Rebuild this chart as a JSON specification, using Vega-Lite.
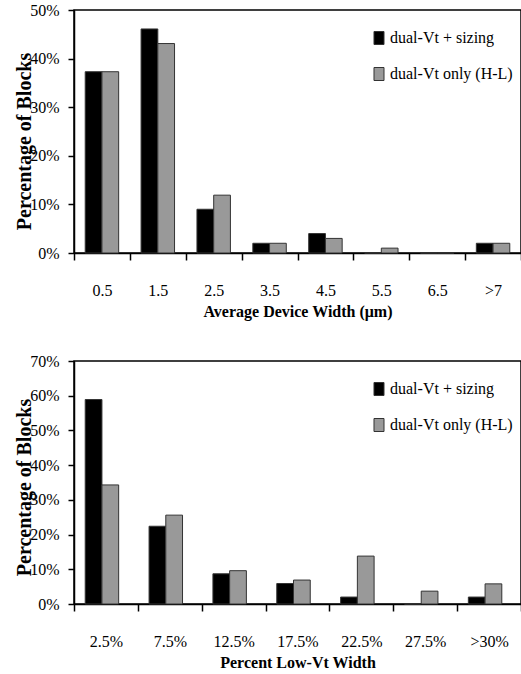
{
  "$schema": "https://vega.github.io/schema/vega-lite/v6.json",
  "padding": {"left": 13, "top": 1, "right": 0, "bottom": 2},
  "datasets": {
    "devwidth": [
      {"bin": "0.5", "series": "dual-Vt + sizing", "pct": 37.3},
      {"bin": "0.5", "series": "dual-Vt only (H-L)", "pct": 37.3},
      {"bin": "1.5", "series": "dual-Vt + sizing", "pct": 46.1},
      {"bin": "1.5", "series": "dual-Vt only (H-L)", "pct": 43.1},
      {"bin": "2.5", "series": "dual-Vt + sizing", "pct": 9.0},
      {"bin": "2.5", "series": "dual-Vt only (H-L)", "pct": 11.9},
      {"bin": "3.5", "series": "dual-Vt + sizing", "pct": 2.0},
      {"bin": "3.5", "series": "dual-Vt only (H-L)", "pct": 2.0},
      {"bin": "4.5", "series": "dual-Vt + sizing", "pct": 4.0},
      {"bin": "4.5", "series": "dual-Vt only (H-L)", "pct": 3.0},
      {"bin": "5.5", "series": "dual-Vt + sizing", "pct": 0},
      {"bin": "5.5", "series": "dual-Vt only (H-L)", "pct": 1.0},
      {"bin": "6.5", "series": "dual-Vt + sizing", "pct": 0},
      {"bin": "6.5", "series": "dual-Vt only (H-L)", "pct": 0},
      {"bin": ">7", "series": "dual-Vt + sizing", "pct": 2.0},
      {"bin": ">7", "series": "dual-Vt only (H-L)", "pct": 2.0}
    ],
    "lowvt": [
      {"bin": "2.5%", "series": "dual-Vt + sizing", "pct": 58.9},
      {"bin": "2.5%", "series": "dual-Vt only (H-L)", "pct": 34.3},
      {"bin": "7.5%", "series": "dual-Vt + sizing", "pct": 22.4},
      {"bin": "7.5%", "series": "dual-Vt only (H-L)", "pct": 25.6},
      {"bin": "12.5%", "series": "dual-Vt + sizing", "pct": 8.7},
      {"bin": "12.5%", "series": "dual-Vt only (H-L)", "pct": 9.6},
      {"bin": "17.5%", "series": "dual-Vt + sizing", "pct": 5.9},
      {"bin": "17.5%", "series": "dual-Vt only (H-L)", "pct": 6.9},
      {"bin": "22.5%", "series": "dual-Vt + sizing", "pct": 2.0},
      {"bin": "22.5%", "series": "dual-Vt only (H-L)", "pct": 13.8},
      {"bin": "27.5%", "series": "dual-Vt + sizing", "pct": 0},
      {"bin": "27.5%", "series": "dual-Vt only (H-L)", "pct": 3.7},
      {"bin": ">30%", "series": "dual-Vt + sizing", "pct": 2.0},
      {"bin": ">30%", "series": "dual-Vt only (H-L)", "pct": 5.8}
    ]
  },
  "config": {
    "font": "Liberation Serif",
    "view": {"stroke": "black", "strokeWidth": 1.5},
    "axis": {
      "domainColor": "black", "domainWidth": 1.5,
      "tickColor": "black", "tickWidth": 1.5,
      "grid": false,
      "labelFont": "Liberation Serif", "labelColor": "black",
      "titleFont": "Liberation Serif", "titleColor": "black"
    },
    "legend": {
      "labelFont": "Liberation Serif", "labelFontSize": 16, "labelColor": "black",
      "symbolType": "M-0.77,-1H0.77V1H-0.77Z", "symbolSize": 169,
      "symbolStrokeColor": "#333", "symbolStrokeWidth": 1,
      "rowPadding": 18, "labelOffset": 3, "padding": 0
    },
    "concat": {"spacing": 32}
  },
  "resolve": {"legend": {"color": "independent"}},
  "vconcat": [
    {
      "width": 447, "height": 243,
      "data": {"name": "devwidth"},
      "mark": {"type": "bar", "stroke": "#333", "strokeWidth": 1},
      "encoding": {
        "x": {
          "field": "bin", "type": "nominal", "sort": null,
          "scale": {"paddingInner": 0, "paddingOuter": 0},
          "axis": {
            "title": "Average Device Width (μm)", "labelAngle": 0,
            "tickBand": "extent", "tickSize": 7, "labelPadding": 22,
            "labelFontSize": 16, "titleFontSize": 16, "titleFontWeight": "bold", "titlePadding": 5
          }
        },
        "xOffset": {
          "field": "series", "type": "nominal", "sort": null,
          "scale": {"paddingInner": 0, "paddingOuter": 0.67}
        },
        "y": {
          "field": "pct", "type": "quantitative",
          "scale": {"domain": [0, 50]},
          "axis": {
            "values": [0, 10, 20, 30, 40, 50], "labelExpr": "datum.value + '%'",
            "title": "Percentage of Blocks", "tickSize": 6, "labelFontSize": 16, "labelPadding": 9,
            "titleFontSize": 20, "titleFontWeight": "bold",
            "titleX": -50, "titleY": 131, "titleBaseline": "middle", "titleAngle": -90
          }
        },
        "color": {
          "field": "series", "type": "nominal", "sort": null,
          "scale": {"domain": ["dual-Vt + sizing", "dual-Vt only (H-L)"], "range": ["#000000", "#999999"]},
          "legend": {"orient": "none", "legendX": 297, "legendY": 20, "title": null}
        }
      }
    },
    {
      "width": 447, "height": 243,
      "data": {"name": "lowvt"},
      "mark": {"type": "bar", "stroke": "#333", "strokeWidth": 1},
      "encoding": {
        "x": {
          "field": "bin", "type": "nominal", "sort": null,
          "scale": {"paddingInner": 0, "paddingOuter": 0},
          "axis": {
            "title": "Percent Low-Vt Width", "labelAngle": 0,
            "tickBand": "extent", "tickSize": 7, "labelPadding": 22,
            "labelFontSize": 16, "titleFontSize": 16, "titleFontWeight": "bold", "titlePadding": 5
          }
        },
        "xOffset": {
          "field": "series", "type": "nominal", "sort": null,
          "scale": {"paddingInner": 0, "paddingOuter": 0.67}
        },
        "y": {
          "field": "pct", "type": "quantitative",
          "scale": {"domain": [0, 70]},
          "axis": {
            "values": [0, 10, 20, 30, 40, 50, 60, 70], "labelExpr": "datum.value + '%'",
            "title": "Percentage of Blocks", "tickSize": 6, "labelFontSize": 16, "labelPadding": 9,
            "titleFontSize": 20, "titleFontWeight": "bold",
            "titleX": -50, "titleY": 126, "titleBaseline": "middle", "titleAngle": -90
          }
        },
        "color": {
          "field": "series", "type": "nominal", "sort": null,
          "scale": {"domain": ["dual-Vt + sizing", "dual-Vt only (H-L)"], "range": ["#000000", "#999999"]},
          "legend": {"orient": "none", "legendX": 297, "legendY": 20, "title": null}
        }
      }
    }
  ]
}
